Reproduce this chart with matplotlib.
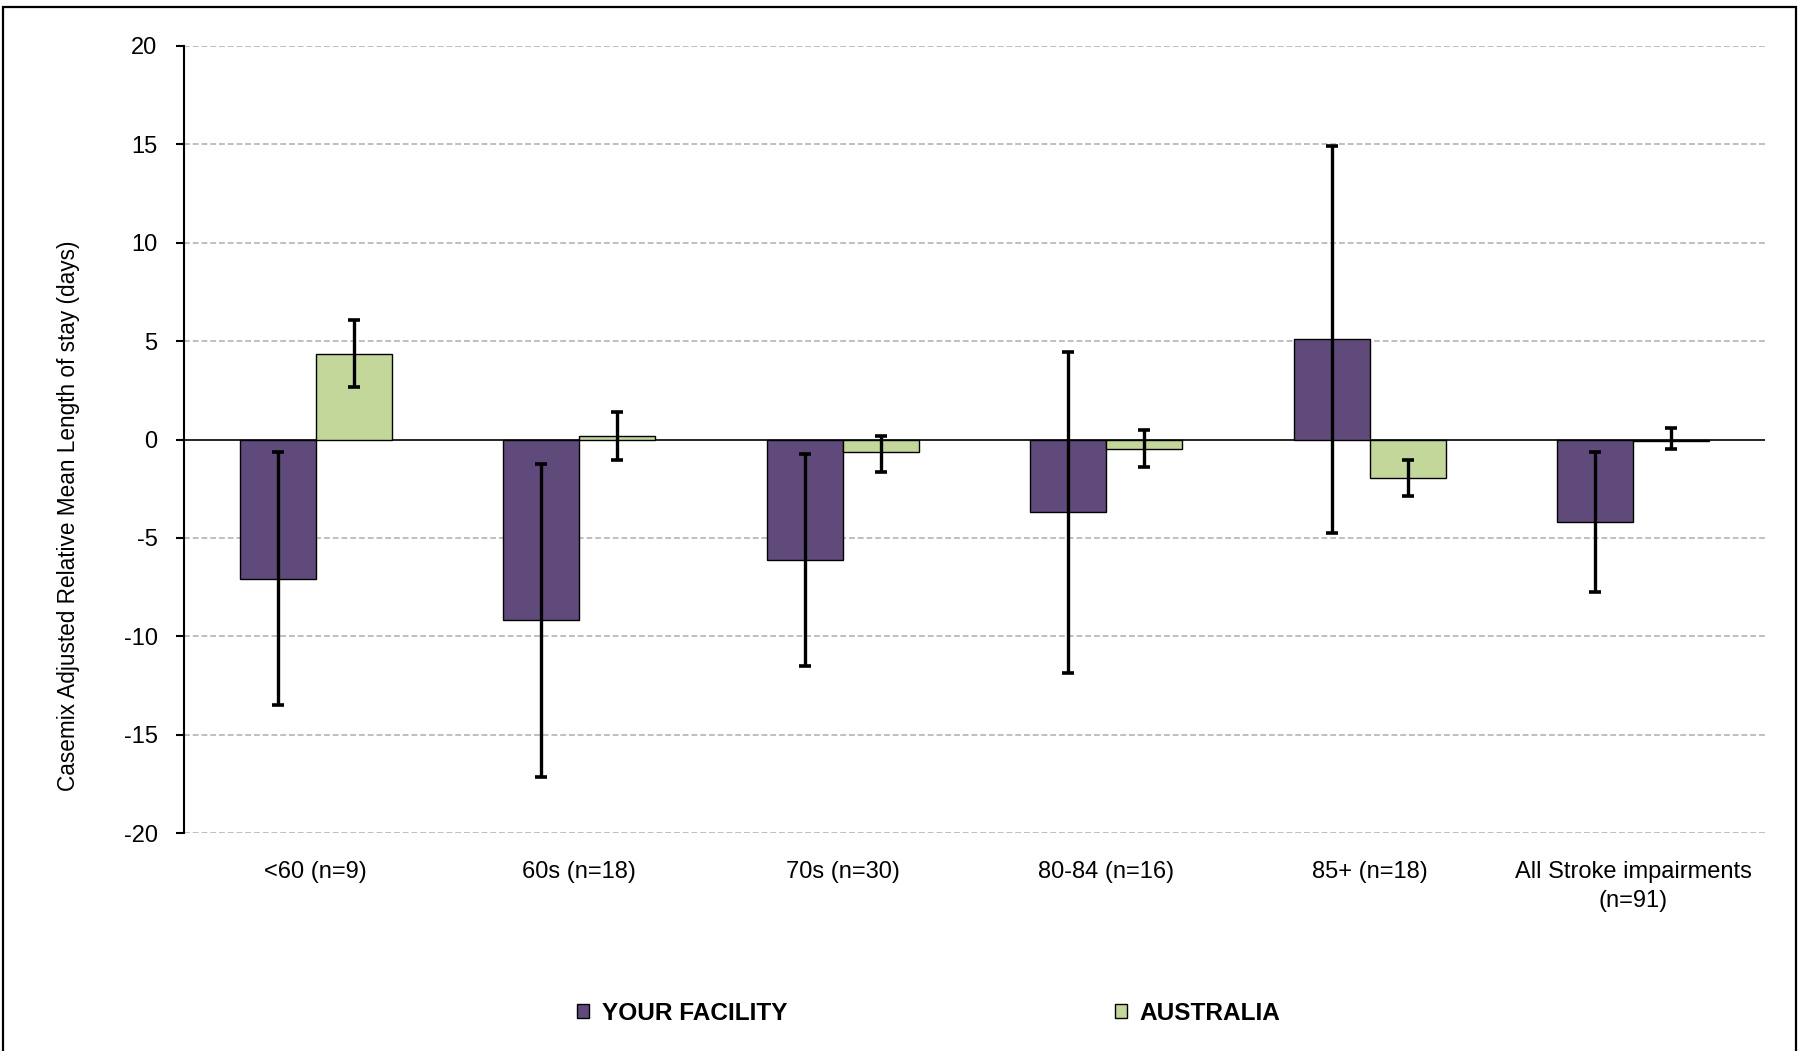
import matplotlib
matplotlib.use("Agg")
import matplotlib.pyplot as plt
import numpy as np
from matplotlib.patches import Rectangle

plt.rcParams['axes.unicode_minus'] = False

categories = ['<60 (n=9)', '60s (n=18)', '70s (n=30)', '80-84 (n=16)', '85+ (n=18)',
              'All Stroke impairments\n(n=91)']
series_names = ['YOUR FACILITY', 'AUSTRALIA']
facility = [-7.1, -9.18, -6.14, -3.7, 5.1, -4.18]
facility_lo = [-13.49, -17.16, -11.52, -11.87, -4.73, -7.74]
facility_hi = [-0.64, -1.24, -0.76, 4.44, 14.9, -0.63]
australia = [4.37, 0.18, -0.66, -0.47, -1.95, -0.08]
australia_lo = [2.66, -1.03, -1.64, -1.40, -2.88, -0.47]
australia_hi = [6.08, 1.42, 0.18, 0.47, -1.03, 0.57]
yticks = [-20, -15, -10, -5, 0, 5, 10, 15, 20]
ylabel = 'Casemix Adjusted Relative Mean Length of stay (days)'

font = 'Liberation Sans'
purple = '#604A7B'
green = '#C4D79B'

fig = plt.figure(figsize=(18.03, 10.51), dpi=100)
ax = fig.add_axes([184/1803, 1-833/1051, (1765-184)/1803, (833-46)/1051])

x = np.arange(len(categories))
w = 0.288
fac = np.array(facility)
aus = np.array(australia)
ax.bar(x - w/2, fac, width=w, color=purple, edgecolor='black', linewidth=1.0, zorder=3,
       label=series_names[0])
ax.bar(x + w/2, aus, width=w, color=green, edgecolor='black', linewidth=1.0, zorder=3,
       label=series_names[1])

fac_err = [fac - np.array(facility_lo), np.array(facility_hi) - fac]
aus_err = [aus - np.array(australia_lo), np.array(australia_hi) - aus]
ax.errorbar(x - w/2, fac, yerr=fac_err, fmt='none', ecolor='black', elinewidth=2.4,
            capsize=4.3, capthick=2.6, zorder=4)
ax.errorbar(x + w/2, aus, yerr=aus_err, fmt='none', ecolor='black', elinewidth=2.4,
            capsize=4.3, capthick=2.6, zorder=4)

ax.set_xlim(-0.5, 5.5)
ax.set_ylim(-20, 20)
ax.set_yticks(yticks)
for t in yticks:
    if t != 0:
        ax.axhline(t, color='#BFBFBF', linewidth=1.4, linestyle=(0, (3, 1.5)), zorder=1)
ax.axhline(0, color='black', linewidth=1.2, zorder=2)

ax.set_xticks(x)
ax.set_xticklabels(categories, fontsize=17, family=font, linespacing=1.42)
ax.tick_params(axis='x', length=0, pad=20)
ax.tick_params(axis='y', length=6, width=1.5, direction='out', pad=13, labelsize=17)
for lab in ax.get_yticklabels():
    lab.set_family(font)

for s in ['top', 'right', 'bottom']:
    ax.spines[s].set_visible(False)
ax.spines['left'].set_linewidth(1.5)

ax.set_ylabel(ylabel, fontsize=16.3, family=font)
ax.yaxis.set_label_coords(-0.066, 0.403)

handles, labels = ax.get_legend_handles_labels()
leg = fig.legend(handles, labels, loc='center', bbox_to_anchor=(0.515, 1-1013/1051), ncol=2,
                 frameon=False, handlelength=0.5, handleheight=0.5, handletextpad=0.5,
                 columnspacing=13.4,
                 prop={'family': font, 'weight': 'bold', 'size': 17.6})

fig.patches.append(Rectangle((3/1803, -0.02), (1796-3)/1803, 1-6.5/1051+0.02,
                             transform=fig.transFigure, fill=False, edgecolor='black',
                             linewidth=1.6))

fig.savefig('out.png', dpi=100)
